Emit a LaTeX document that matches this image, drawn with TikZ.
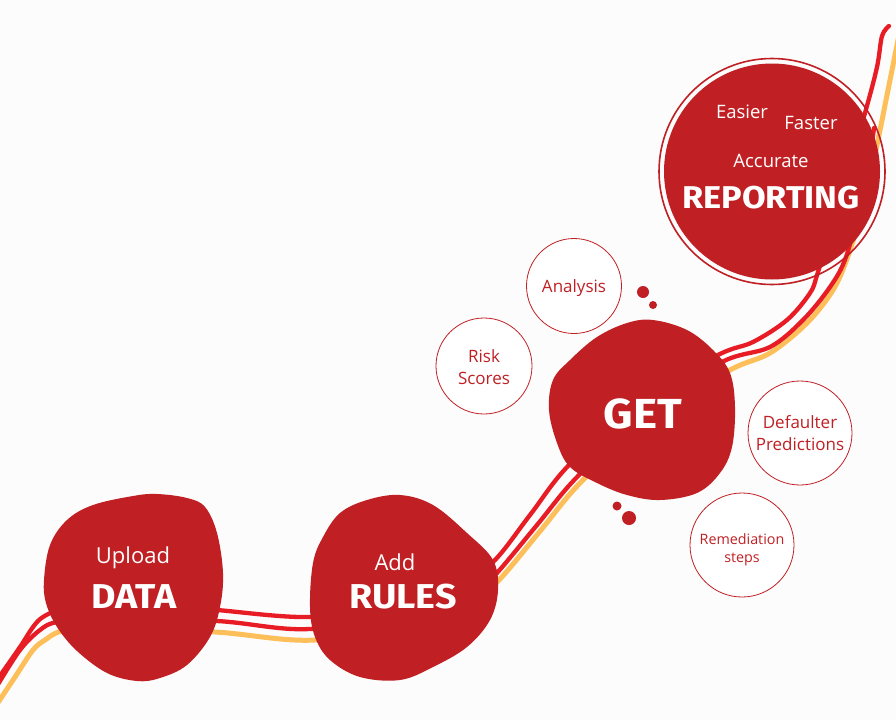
\documentclass[tikz,border=0pt]{standalone}
\usepackage{fontspec}
\setmainfont{Open Sans}
\newfontfamily\firab{Fira Sans}
\definecolor{blobred}{HTML}{C02024}
\definecolor{linered}{HTML}{E81C24}
\definecolor{lineorange}{HTML}{FDBF5A}
\definecolor{bgc}{HTML}{FCFCFC}
\tikzset{
  redline/.style={draw=linered, line width=4.3pt, line cap=round},
  orangeline/.style={draw=lineorange, line width=5pt, line cap=round},
  blob/.style={fill=blobred, draw=none},
  bubble/.style={circle, draw=blobred, line width=0.8pt, fill=white, inner sep=0pt},
  bubtext/.style={anchor=base, text=blobred, inner sep=0pt},
  whitetext/.style={anchor=base, text=white, inner sep=0pt},
  bigtext/.style={anchor=base, text=white, inner sep=0pt, xscale=1.09, transform shape},
  dotnode/.style={circle, fill=blobred, inner sep=0pt},
}
\begin{document}
\begin{tikzpicture}[x=1pt,y=-1pt]
\fill[bgc] (0,0) rectangle (896,720);
\useasboundingbox (0,0) rectangle (896,720);
% lines
\draw[orangeline] plot[smooth, tension=0.55] coordinates {(-3,704) (15,677) (33,650) (45,640) (62,631) (100,628) (215,632) (315,640) (420,620) (470,605) (500,579) (541,530) (582,481) (655,415) (730,370) (770,353) (807,323) (833,290) (848,256) (865,200) (878,140) (888,90) (899,35)};
\draw[redline] plot[smooth, tension=0.55] coordinates {(-3,686) (20,650) (40,630) (57,622) (100,618) (217,621) (310,629) (420,610) (470,600) (497,573) (537,525) (578,476) (650,410) (722,362) (770,347) (803,320) (830,287) (846,257) (861,200) (870,155) (874,128)};
\draw[redline] plot[smooth, tension=0.55] coordinates {(-3,680) (20,647) (33,627) (43,617) (62,609) (100,604) (160,605) (217,610) (310,617) (400,605) (450,590) (492,563) (530,515) (568,466) (640,400) (718,355) (753,342) (787,320) (810,293) (818,272) (840,200) (865,113) (877,67) (882,36) (889,26)};
% blobs
\fill[blob] plot[smooth cycle, tension=0.6] coordinates {(44,580) (50,545) (67,520) (93,505) (133,496) (157,494) (187,498) (205,507) (217,533) (223,573) (220,607) (210,637) (187,665) (160,678) (137,681) (107,673) (77,651) (57,627) (46,603)};
\fill[blob] plot[smooth cycle, tension=0.6] coordinates {(310,607) (313,563) (323,537) (340,513) (367,500) (400,495) (433,505) (467,533) (493,560) (498,590) (490,620) (467,647) (433,667) (400,680) (360,677) (330,660) (315,637)};
\fill[blob] plot[smooth cycle, tension=0.6] coordinates {(549,410) (553,380) (570,360) (597,337) (627,323) (653,320) (687,330) (713,350) (730,373) (735,407) (732,447) (720,473) (697,493) (660,500) (627,495) (597,483) (570,467) (557,443)};
% reporting circle
\node[circle, draw=blobred, line width=1.6pt, minimum size=226pt, inner sep=0pt] (ring) at (772,171.5) {};
\node[circle, fill=blobred, minimum size=216pt, inner sep=0pt] (rep) at (772,171.5) {};
% bubbles
\node[bubble, minimum size=95pt] (anC) at (574,286) {};
\node[bubble, minimum size=96pt] (riC) at (484,366) {};
\node[bubble, minimum size=104pt] (deC) at (800,433) {};
\node[bubble, minimum size=104pt] (reC) at (742,545) {};
% dots
\node[dotnode, minimum size=12pt] (d1) at (643,292) {};
\node[dotnode, minimum size=8pt] (d2) at (653,305) {};
\node[dotnode, minimum size=9pt] (d3) at (617,506) {};
\node[dotnode, minimum size=14pt] (d4) at (629,518) {};
% texts
\node[whitetext, font=\fontsize{22}{22}\selectfont] (upT) at (133,563) {Upload};
\node[bigtext, font=\firab\bfseries\fontsize{34.5}{34.5}\selectfont] (daT) at (134,608) {DATA};
\node[whitetext, font=\fontsize{22}{22}\selectfont] (adT) at (395,570) {Add};
\node[bigtext, font=\firab\bfseries\fontsize{34.5}{34.5}\selectfont] (ruT) at (403,608) {RULES};
\node[bigtext, font=\firab\bfseries\fontsize{42}{42}\selectfont] (geT) at (643,428) {GET};
\node[whitetext, font=\fontsize{18.5}{18.5}\selectfont] (eaT) at (742,118) {Easier};
\node[whitetext, font=\fontsize{18.5}{18.5}\selectfont] (faT) at (811,129) {Faster};
\node[whitetext, font=\fontsize{18.5}{18.5}\selectfont] (acT) at (771,167) {Accurate};
\node[bigtext, font=\firab\bfseries\fontsize{31.5}{31.5}\selectfont] (reT) at (771,208) {REPORTING};
\node[bubtext, font=\fontsize{17}{17}\selectfont] (anT) at (574,292) {Analysis};
\node[bubtext, font=\fontsize{17}{17}\selectfont] (riT1) at (484,362) {Risk};
\node[bubtext, font=\fontsize{17}{17}\selectfont] (riT2) at (484,384) {Scores};
\node[bubtext, font=\fontsize{17}{17}\selectfont] (deT1) at (800,428) {Defaulter};
\node[bubtext, font=\fontsize{17}{17}\selectfont] (deT2) at (800,450) {Predictions};
\node[bubtext, font=\fontsize{14.3}{14.3}\selectfont] (reT1) at (742,544) {Remediation};
\node[bubtext, font=\fontsize{14.3}{14.3}\selectfont] (reT2) at (742,562) {steps};
\end{tikzpicture}
\end{document}
